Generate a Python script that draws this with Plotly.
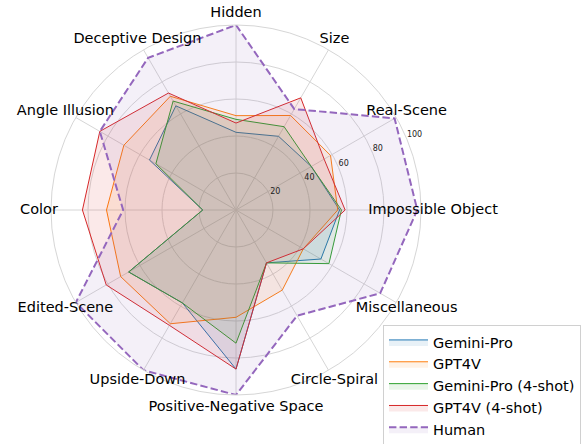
import plotly.graph_objects as go

categories = ["Hidden", "Size", "Real-Scene", "Impossible Object", "Miscellaneous",
              "Circle-Spiral", "Positive-Negative Space", "Upside-Down", "Edited-Scene",
              "Color", "Angle Illusion", "Deceptive Design"]

gemini_pro = [42, 46, 47, 56, 53, 33, 86, 58, 67, 18, 54, 65]
gpt4v = [51, 59, 59, 55, 42, 50, 58, 71, 72, 70, 70, 71]
gemini_pro_4shot = [49, 52, 47, 57, 58, 33, 72, 58, 67, 18, 50, 68]
gpt4v_4shot = [47, 70, 55, 59, 42, 33, 86, 72, 81, 83, 85, 73]
human = [100, 63, 99, 98, 90, 66, 100, 100, 100, 61, 85, 95]

radial_ticks = [20, 40, 60, 80, 100]
radial_tick_labels = ["20", "40", "60", "80", "100"]
rlabel_angle = 67.5   # degrees clockwise from top (22.5 deg above horizontal)
label_r = 106.5

series = [
    ("Gemini-Pro", gemini_pro, "#1f77b4", "rgba(31,119,180,0.1)", "solid", 1),
    ("GPT4V", gpt4v, "#ff7f0e", "rgba(255,127,14,0.1)", "solid", 1),
    ("Gemini-Pro (4-shot)", gemini_pro_4shot, "#2ca02c", "rgba(44,160,44,0.1)", "solid", 1),
    ("GPT4V (4-shot)", gpt4v_4shot, "#d62728", "rgba(214,39,40,0.1)", "solid", 1),
    ("Human", human, "#9467bd", "rgba(148,103,189,0.1)", "7.4px,3.2px", 2),
]

FONT = "DejaVu Sans"
fig = go.Figure()
for name, vals, color, fillc, dash, w in series:
    fig.add_trace(go.Scatterpolar(
        r=vals + vals[:1], theta=categories + categories[:1],
        mode="lines", name=name, fill="toself", fillcolor=fillc,
        line=dict(color=color, width=w, dash=dash), hoverinfo="skip", subplot="polar"))

n = len(categories)
cat_theta = [i * 360.0 / n for i in range(n)]
fig.add_trace(go.Scatterpolar(
    r=[label_r] * n, theta=cat_theta, mode="text", text=categories,
    textposition="middle center", textfont=dict(family=FONT, size=14.5, color="#000000"),
    showlegend=False, cliponaxis=False, hoverinfo="skip", subplot="polar2"))
fig.add_trace(go.Scatterpolar(
    r=radial_ticks, theta=[rlabel_angle] * len(radial_ticks), mode="text",
    text=radial_tick_labels, textposition="top right",
    textfont=dict(family=FONT, size=8, color="#222222"),
    showlegend=False, cliponaxis=False, hoverinfo="skip", subplot="polar2"))

W, H = 582, 444
cx, cy, R = 236, 210, 185
R2 = R * 107 / 100.0
fig.update_layout(
    width=W, height=H,
    margin=dict(l=0, r=0, t=0, b=0, autoexpand=False),
    paper_bgcolor="white",
    font=dict(family=FONT, color="#000000"),
    polar=dict(
        domain=dict(x=[(cx - R) / W, (cx + R) / W], y=[(H - cy - R) / H, (H - cy + R) / H]),
        bgcolor="white",
        angularaxis=dict(rotation=90, direction="clockwise", showticklabels=False,
                         ticks="", gridcolor="#d6d6d6", gridwidth=1,
                         categoryorder="array", categoryarray=categories,
                         showline=True, linecolor="#d6d6d6", linewidth=1),
        radialaxis=dict(range=[0, 100], tickvals=radial_ticks, showticklabels=False,
                        showline=False, ticks="", gridcolor="#d6d6d6", gridwidth=1),
    ),
    polar2=dict(
        domain=dict(x=[(cx - R2) / W, (cx + R2) / W], y=[(H - cy - R2) / H, (H - cy + R2) / H]),
        bgcolor="rgba(0,0,0,0)",
        angularaxis=dict(rotation=90, direction="clockwise", showticklabels=False,
                         ticks="", showgrid=False, showline=False, type="linear",
                         thetaunit="degrees"),
        radialaxis=dict(range=[0, 107], visible=False),
    ),
    legend=dict(x=383 / W, y=(H - 325) / H, xanchor="left", yanchor="top",
                itemwidth=39,
                font=dict(family=FONT, size=14.5, color="#000000"),
                bgcolor="rgba(255,255,255,0.8)", bordercolor="#d0d0d0", borderwidth=1),
)
fig.write_html("out.html", config={"displayModeBar": False},
               post_script="document.body.style.margin='0px';document.body.style.overflow='hidden';")
